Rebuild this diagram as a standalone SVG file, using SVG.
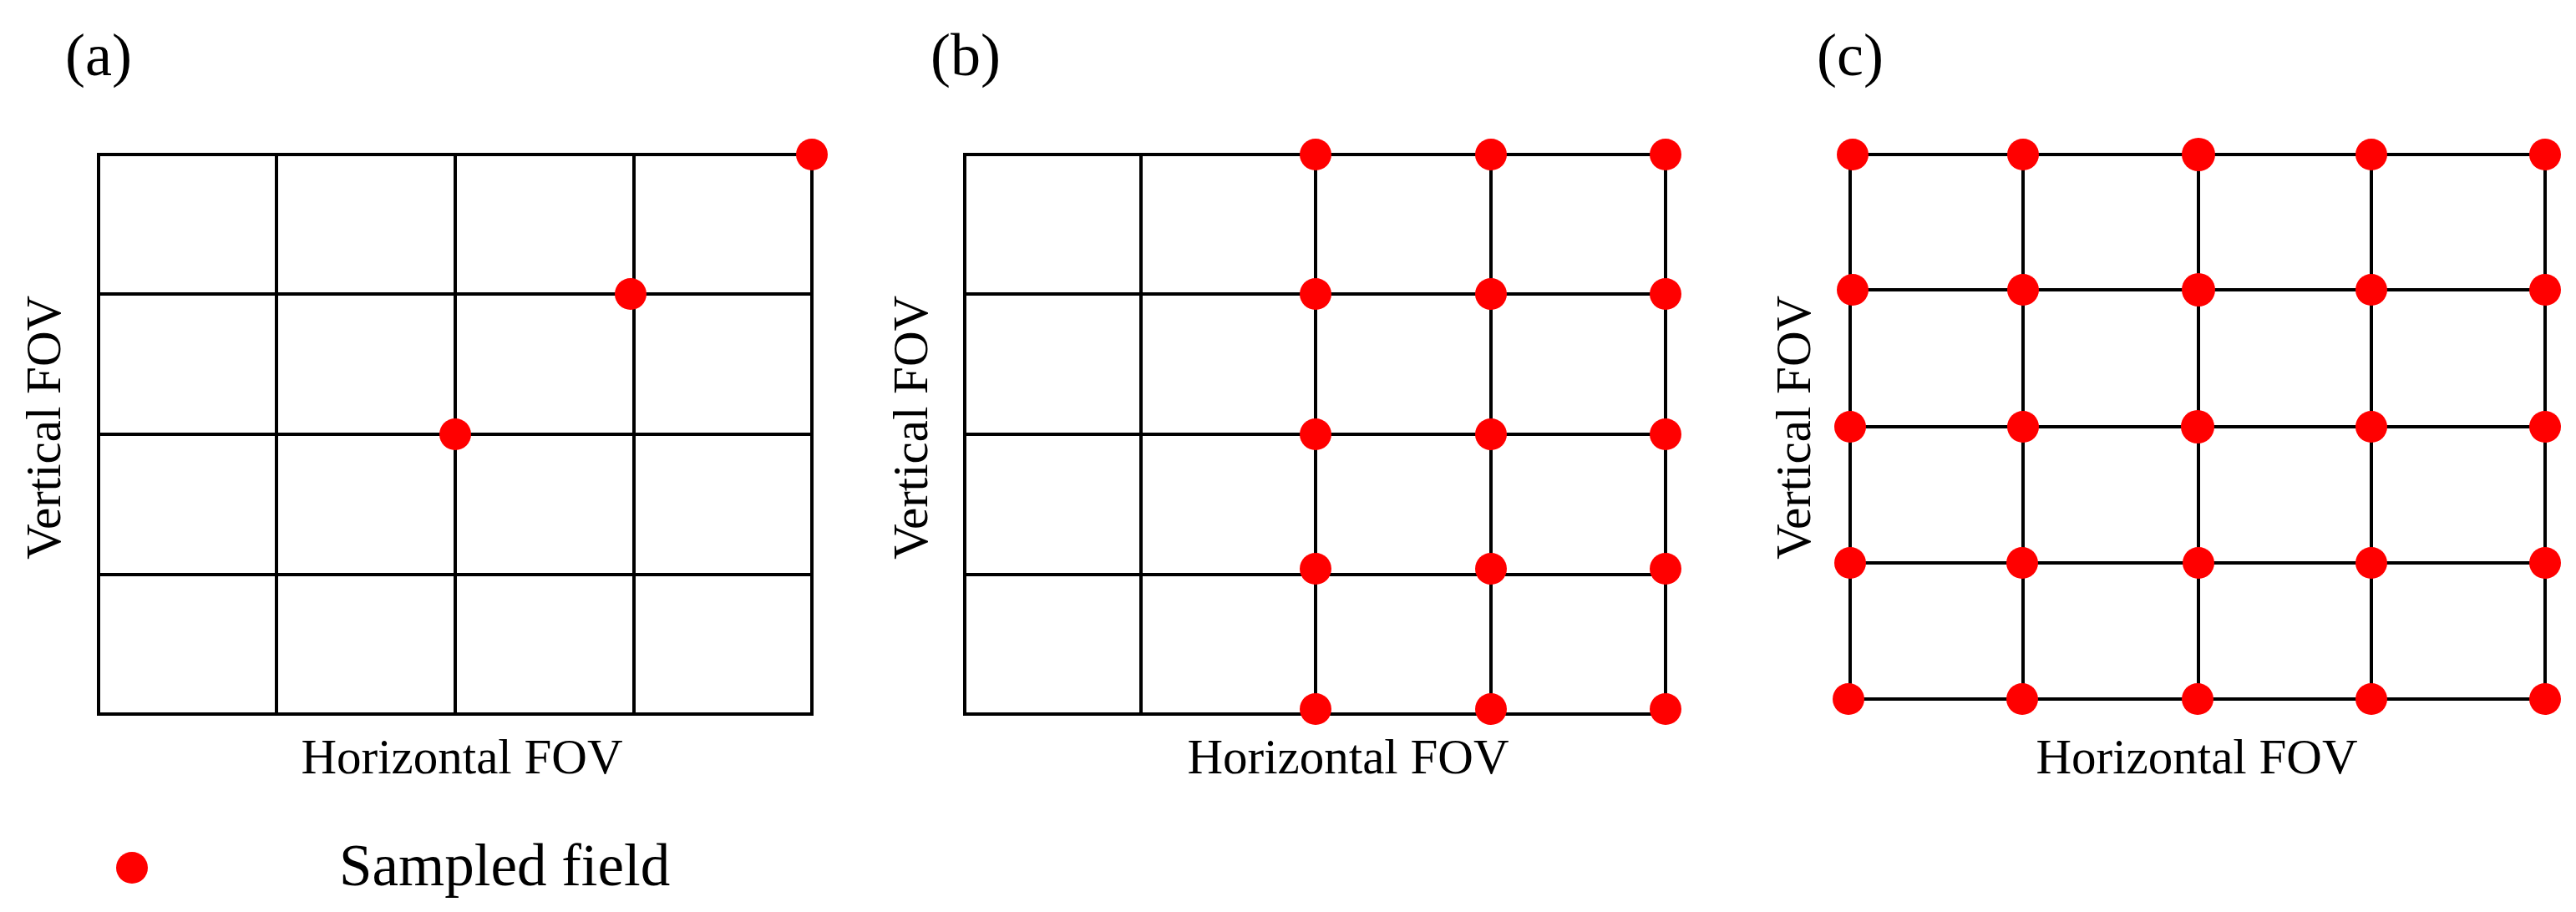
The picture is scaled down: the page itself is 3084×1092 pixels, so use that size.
<svg xmlns="http://www.w3.org/2000/svg" width="3084" height="1092" viewBox="0 0 3084 1092">
<style>
text{font-family:"Liberation Serif","Times New Roman",serif;fill:#000}
.lab{font-size:72px}
.ax{font-size:59px}
.g{stroke:#000;stroke-width:4;fill:none}
.d{fill:#ff0000}
</style>
<rect width="3084" height="1092" fill="#fff"/>
<g id="panel-a">
<text class="lab" x="78" y="90">(a)</text>
<path class="g" d="M118,185H972V855H118Z M331,185V855 M545,185V855 M759,185V855 M118,352H972 M118,520H972 M118,688H972"/>
<circle class="d" cx="972" cy="185" r="19"/>
<circle class="d" cx="755" cy="352" r="19"/>
<circle class="d" cx="545" cy="520" r="19"/>
<text class="ax" x="553" y="926" text-anchor="middle">Horizontal FOV</text>
<text class="ax" transform="translate(72,512) rotate(-90)" text-anchor="middle">Vertical FOV</text>
</g>
<g id="panel-b">
<text class="lab" x="1114" y="90">(b)</text>
<path class="g" d="M1155,185H1994V855H1155Z M1366,185V855 M1575,185V855 M1785,185V855 M1155,352H1994 M1155,520H1994 M1155,688H1994"/>
<g class="d">
<circle cx="1575" cy="185" r="19"/><circle cx="1785" cy="185" r="19"/><circle cx="1994" cy="185" r="19"/>
<circle cx="1575" cy="352" r="19"/><circle cx="1785" cy="352" r="19"/><circle cx="1994" cy="352" r="19"/>
<circle cx="1575" cy="520" r="19"/><circle cx="1785" cy="520" r="19"/><circle cx="1994" cy="520" r="19"/>
<circle cx="1575" cy="681" r="19"/><circle cx="1785" cy="681" r="19"/><circle cx="1994" cy="681" r="19"/>
<circle cx="1575" cy="849" r="19"/><circle cx="1785" cy="849" r="19"/><circle cx="1994" cy="849" r="19"/>
</g>
<text class="ax" x="1614" y="926" text-anchor="middle">Horizontal FOV</text>
<text class="ax" transform="translate(1110,512) rotate(-90)" text-anchor="middle">Vertical FOV</text>
</g>
<g id="panel-c">
<text class="lab" x="2175" y="90">(c)</text>
<path class="g" d="M2215,185H3047V837H2215Z M2422,185V837 M2632,185V837 M2839,185V837 M2215,347H3047 M2215,511H3047 M2215,674H3047"/>
<g class="d">
<circle cx="2218" cy="185" r="19"/><circle cx="2422" cy="185" r="19"/><circle cx="2632" cy="185" r="20"/><circle cx="2839" cy="185" r="19"/><circle cx="3047" cy="185" r="19"/>
<circle cx="2218" cy="347" r="19"/><circle cx="2422" cy="347" r="19"/><circle cx="2632" cy="347" r="20"/><circle cx="2839" cy="347" r="19"/><circle cx="3047" cy="347" r="19"/>
<circle cx="2215" cy="511" r="19"/><circle cx="2422" cy="511" r="19"/><circle cx="2631" cy="511" r="20"/><circle cx="2839" cy="511" r="19"/><circle cx="3047" cy="511" r="19"/>
<circle cx="2215" cy="674" r="19"/><circle cx="2421" cy="674" r="19"/><circle cx="2632" cy="674" r="19"/><circle cx="2839" cy="674" r="19"/><circle cx="3047" cy="674" r="19"/>
<circle cx="2213" cy="837" r="19"/><circle cx="2421" cy="837" r="19"/><circle cx="2631" cy="837" r="19"/><circle cx="2839" cy="837" r="19"/><circle cx="3047" cy="837" r="19"/>
</g>
<text class="ax" x="2630" y="926" text-anchor="middle">Horizontal FOV</text>
<text class="ax" transform="translate(2167,512) rotate(-90)" text-anchor="middle">Vertical FOV</text>
</g>
<g id="legend">
<circle class="d" cx="158" cy="1039" r="19"/>
<text x="406" y="1060" style="font-size:71px">Sampled field</text>
</g>
</svg>
